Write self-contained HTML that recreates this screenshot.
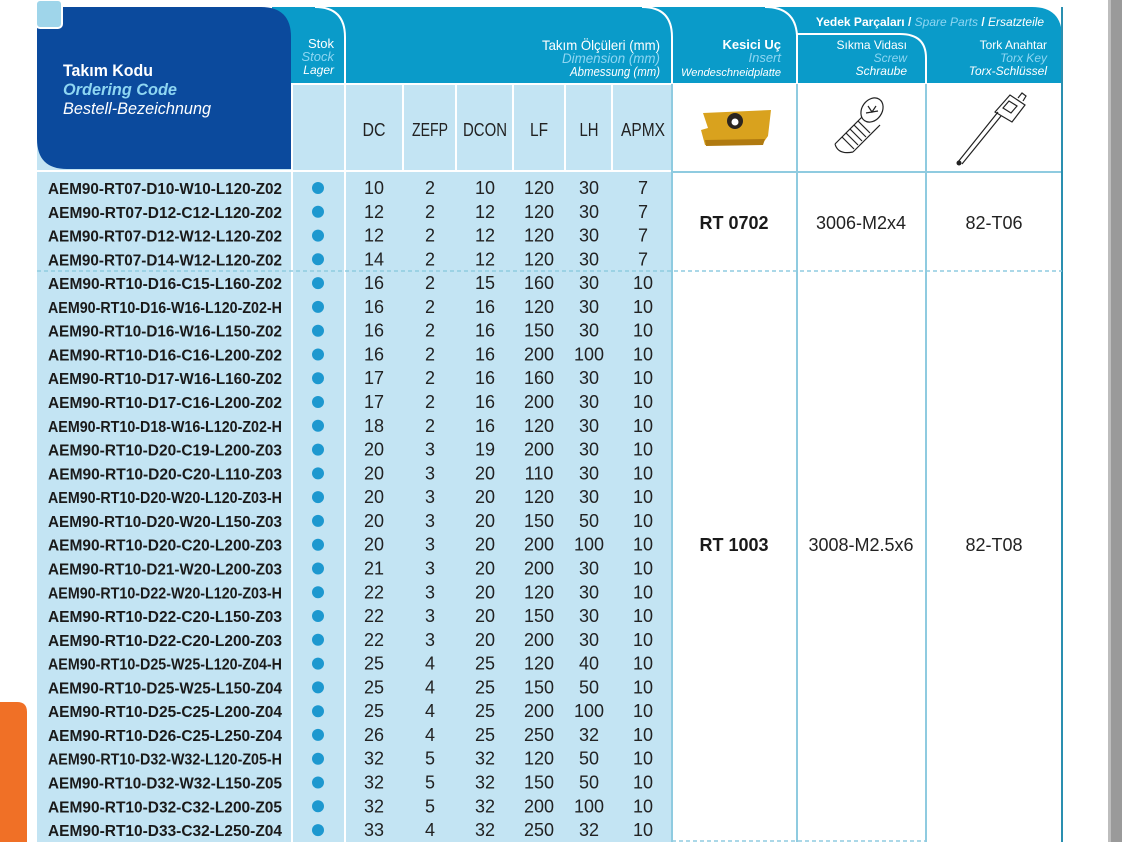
<!DOCTYPE html>
<html><head><meta charset="utf-8"><style>
html,body{margin:0;padding:0;background:#fff;width:1122px;height:842px;overflow:hidden}
svg{display:block}
text{font-family:"Liberation Sans Narrow","Liberation Sans",sans-serif}
.c{font-weight:bold;font-size:16px;fill:#1a1a1a}
.n{font-size:18px;fill:#222;text-anchor:middle}
.h{fill:#fff;text-anchor:end}
.e{fill:#8ed6f2;font-style:italic;text-anchor:end}
.i{fill:#fff;font-style:italic;text-anchor:end}
</style></head><body>
<svg width="1122" height="842" viewBox="0 0 1122 842" xmlns="http://www.w3.org/2000/svg">
<rect x="1108" y="0" width="14" height="842" fill="#9a9a9a"/>
<rect x="1108" y="0" width="3" height="842" fill="#bdbdbd"/>
<path d="M0 702 H17 Q27 702 27 712 V842 H0 Z" fill="#f07026"/>
<path d="M272 7 H1032 Q1062 7 1062 37 V83 H272 Z" fill="#0a9bc9"/>
<path d="M315 7 Q345 7 345 37 V83" stroke="#fff" stroke-width="2" fill="none"/>
<path d="M642 7 Q672 7 672 37 V83" stroke="#fff" stroke-width="2" fill="none"/>
<path d="M765 7 Q795 7 797 35 V83" stroke="#fff" stroke-width="2" fill="none"/>
<path d="M797 34 H900 Q926 34 926 58 V83" stroke="#fff" stroke-width="2" fill="none"/>
<rect x="37" y="84" width="635" height="758" fill="#c3e4f3"/>
<rect x="672" y="84" width="390" height="758" fill="#fff"/>
<g stroke="#fff" stroke-width="2">
<line x1="292" y1="84" x2="292" y2="842"/>
<line x1="345" y1="84" x2="345" y2="842"/>
<line x1="403" y1="84" x2="403" y2="171"/>
<line x1="456" y1="84" x2="456" y2="171"/>
<line x1="513" y1="84" x2="513" y2="171"/>
<line x1="565" y1="84" x2="565" y2="171"/>
<line x1="612" y1="84" x2="612" y2="171"/>
<line x1="37" y1="171" x2="672" y2="171"/>
<line x1="37" y1="84" x2="672" y2="84"/>
</g>
<g stroke="#8fcbe0" stroke-width="2">
<line x1="672" y1="84" x2="672" y2="842"/>
<line x1="797" y1="84" x2="797" y2="842"/>
<line x1="926" y1="84" x2="926" y2="842"/>
<line x1="672" y1="172" x2="1062" y2="172"/>
</g>
<line x1="1062" y1="7" x2="1062" y2="842" stroke="#2a8fb0" stroke-width="2"/>
<line x1="37" y1="271" x2="1062" y2="271" stroke="#8fcbe0" stroke-width="1.5" stroke-dasharray="4,3"/>
<line x1="672" y1="841" x2="926" y2="841" stroke="#8fcbe0" stroke-width="1.5" stroke-dasharray="4,3"/>
<path d="M37 7 H261 Q291 7 291 37 V169 H67 Q37 169 37 139 Z" fill="#0b4a9d"/>
<rect x="36" y="0" width="26" height="28" rx="4" fill="#9fd5ea" stroke="#fff" stroke-width="2"/>
<text x="63" y="76" fill="#fff" font-weight="bold" font-size="17" textLength="90" lengthAdjust="spacingAndGlyphs">Takım Kodu</text>
<text x="63" y="95" fill="#8ed6f2" font-weight="bold" font-style="italic" font-size="17" textLength="114" lengthAdjust="spacingAndGlyphs">Ordering Code</text>
<text x="63" y="114" fill="#fff" font-style="italic" font-size="17" textLength="148" lengthAdjust="spacingAndGlyphs">Bestell-Bezeichnung</text>
<text x="334" y="48" class="h" font-size="13">Stok</text>
<text x="334" y="61" class="e" font-size="13">Stock</text>
<text x="334" y="74" class="i" font-size="12">Lager</text>
<text x="660" y="50" class="h" font-size="14" textLength="118" lengthAdjust="spacingAndGlyphs">Takım Ölçüleri (mm)</text>
<text x="660" y="63" class="e" font-size="14" textLength="98" lengthAdjust="spacingAndGlyphs">Dimension (mm)</text>
<text x="660" y="76" class="i" font-size="13" textLength="90" lengthAdjust="spacingAndGlyphs">Abmessung (mm)</text>
<text x="781" y="49" class="h" font-size="13" font-weight="bold">Kesici Uç</text>
<text x="781" y="62" class="e" font-size="13">Insert</text>
<text x="781" y="76" class="i" font-size="11" textLength="100" lengthAdjust="spacingAndGlyphs">Wendeschneidplatte</text>
<text x="930" y="26" fill="#fff" font-size="12" font-weight="bold" text-anchor="middle">Yedek Parçaları / <tspan fill="#8ed6f2" font-style="italic" font-weight="normal">Spare Parts</tspan> / <tspan font-style="italic" font-weight="normal">Ersatzteile</tspan></text>
<text x="907" y="49" class="h" font-size="12">Sıkma Vidası</text>
<text x="907" y="62" class="e" font-size="12">Screw</text>
<text x="907" y="75" class="i" font-size="12">Schraube</text>
<text x="1047" y="49" class="h" font-size="12">Tork Anahtar</text>
<text x="1047" y="62" class="e" font-size="12">Torx Key</text>
<text x="1047" y="75" class="i" font-size="12">Torx-Schlüssel</text>
<text class="n" x="374" y="136" textLength="23" lengthAdjust="spacingAndGlyphs">DC</text>
<text class="n" x="430" y="136" textLength="36" lengthAdjust="spacingAndGlyphs">ZEFP</text>
<text class="n" x="485" y="136" textLength="44" lengthAdjust="spacingAndGlyphs">DCON</text>
<text class="n" x="539" y="136" textLength="18" lengthAdjust="spacingAndGlyphs">LF</text>
<text class="n" x="589" y="136" textLength="19" lengthAdjust="spacingAndGlyphs">LH</text>
<text class="n" x="643" y="136" textLength="44" lengthAdjust="spacingAndGlyphs">APMX</text>
<g>
<path d="M703 113 L771 110 L768 136 L763 143 L705 145 L701 130 L708 128 Z" fill="#d9a21e"/>
<path d="M705 140 L765 139 L763 145 L706 146 Z" fill="#b07a10"/>
<circle cx="735" cy="121" r="8" fill="#2b2520"/><circle cx="735" cy="122" r="3.5" fill="#fff"/>
</g>
<g fill="none" stroke="#222" stroke-width="1.2">
<ellipse cx="872" cy="110" rx="10" ry="13" transform="rotate(35 872 110)"/>
<path d="M868 106 l4 6 l4 -6 M866 113 l12 -2"/>
<path d="M862 117 L835 144 M880 125 L853 152 M835 144 Q838 155 853 152"/>
<path d="M842 137 l12 12 M846 133 l12 12 M850 129 l12 12 M854 125 l12 12 M858 121 l12 12"/>
<path d="M958 162 L998 112 M962 164 L1001 116"/>
<path d="M995 112 L1010 95 L1025 105 L1012 122 Z M1003 108 l6 -7 l8 5 l-6 7 Z M1018 98 l4 -5 l4 3 l-3 5"/>
</g>
<circle cx="959" cy="163" r="2.5" fill="#222"/>
<text x="734" y="229" font-size="18" font-weight="bold" text-anchor="middle" fill="#1a1a1a">RT 0702</text>
<text x="861" y="229" font-size="18" text-anchor="middle" fill="#222">3006-M2x4</text>
<text x="994" y="229" font-size="18" text-anchor="middle" fill="#222">82-T06</text>
<text x="734" y="551" font-size="18" font-weight="bold" text-anchor="middle" fill="#1a1a1a">RT 1003</text>
<text x="861" y="551" font-size="18" text-anchor="middle" fill="#222">3008-M2.5x6</text>
<text x="994" y="551" font-size="18" text-anchor="middle" fill="#222">82-T08</text>
<g id="rows">
<g transform="translate(0,194)"><text class="c" x="48" textLength="234" lengthAdjust="spacingAndGlyphs">AEM90-RT07-D10-W10-L120-Z02</text><circle cx="318" cy="-6" r="6" fill="#1d98cf"/><text class="n" x="374">10</text><text class="n" x="430">2</text><text class="n" x="485">10</text><text class="n" x="539">120</text><text class="n" x="589">30</text><text class="n" x="643">7</text></g>
<g transform="translate(0,217.8)"><text class="c" x="48" textLength="234" lengthAdjust="spacingAndGlyphs">AEM90-RT07-D12-C12-L120-Z02</text><circle cx="318" cy="-6" r="6" fill="#1d98cf"/><text class="n" x="374">12</text><text class="n" x="430">2</text><text class="n" x="485">12</text><text class="n" x="539">120</text><text class="n" x="589">30</text><text class="n" x="643">7</text></g>
<g transform="translate(0,241.6)"><text class="c" x="48" textLength="234" lengthAdjust="spacingAndGlyphs">AEM90-RT07-D12-W12-L120-Z02</text><circle cx="318" cy="-6" r="6" fill="#1d98cf"/><text class="n" x="374">12</text><text class="n" x="430">2</text><text class="n" x="485">12</text><text class="n" x="539">120</text><text class="n" x="589">30</text><text class="n" x="643">7</text></g>
<g transform="translate(0,265.3)"><text class="c" x="48" textLength="234" lengthAdjust="spacingAndGlyphs">AEM90-RT07-D14-W12-L120-Z02</text><circle cx="318" cy="-6" r="6" fill="#1d98cf"/><text class="n" x="374">14</text><text class="n" x="430">2</text><text class="n" x="485">12</text><text class="n" x="539">120</text><text class="n" x="589">30</text><text class="n" x="643">7</text></g>
<g transform="translate(0,289.1)"><text class="c" x="48" textLength="234" lengthAdjust="spacingAndGlyphs">AEM90-RT10-D16-C15-L160-Z02</text><circle cx="318" cy="-6" r="6" fill="#1d98cf"/><text class="n" x="374">16</text><text class="n" x="430">2</text><text class="n" x="485">15</text><text class="n" x="539">160</text><text class="n" x="589">30</text><text class="n" x="643">10</text></g>
<g transform="translate(0,312.9)"><text class="c" x="48" textLength="234" lengthAdjust="spacingAndGlyphs">AEM90-RT10-D16-W16-L120-Z02-H</text><circle cx="318" cy="-6" r="6" fill="#1d98cf"/><text class="n" x="374">16</text><text class="n" x="430">2</text><text class="n" x="485">16</text><text class="n" x="539">120</text><text class="n" x="589">30</text><text class="n" x="643">10</text></g>
<g transform="translate(0,336.7)"><text class="c" x="48" textLength="234" lengthAdjust="spacingAndGlyphs">AEM90-RT10-D16-W16-L150-Z02</text><circle cx="318" cy="-6" r="6" fill="#1d98cf"/><text class="n" x="374">16</text><text class="n" x="430">2</text><text class="n" x="485">16</text><text class="n" x="539">150</text><text class="n" x="589">30</text><text class="n" x="643">10</text></g>
<g transform="translate(0,360.5)"><text class="c" x="48" textLength="234" lengthAdjust="spacingAndGlyphs">AEM90-RT10-D16-C16-L200-Z02</text><circle cx="318" cy="-6" r="6" fill="#1d98cf"/><text class="n" x="374">16</text><text class="n" x="430">2</text><text class="n" x="485">16</text><text class="n" x="539">200</text><text class="n" x="589">100</text><text class="n" x="643">10</text></g>
<g transform="translate(0,384.2)"><text class="c" x="48" textLength="234" lengthAdjust="spacingAndGlyphs">AEM90-RT10-D17-W16-L160-Z02</text><circle cx="318" cy="-6" r="6" fill="#1d98cf"/><text class="n" x="374">17</text><text class="n" x="430">2</text><text class="n" x="485">16</text><text class="n" x="539">160</text><text class="n" x="589">30</text><text class="n" x="643">10</text></g>
<g transform="translate(0,408)"><text class="c" x="48" textLength="234" lengthAdjust="spacingAndGlyphs">AEM90-RT10-D17-C16-L200-Z02</text><circle cx="318" cy="-6" r="6" fill="#1d98cf"/><text class="n" x="374">17</text><text class="n" x="430">2</text><text class="n" x="485">16</text><text class="n" x="539">200</text><text class="n" x="589">30</text><text class="n" x="643">10</text></g>
<g transform="translate(0,431.8)"><text class="c" x="48" textLength="234" lengthAdjust="spacingAndGlyphs">AEM90-RT10-D18-W16-L120-Z02-H</text><circle cx="318" cy="-6" r="6" fill="#1d98cf"/><text class="n" x="374">18</text><text class="n" x="430">2</text><text class="n" x="485">16</text><text class="n" x="539">120</text><text class="n" x="589">30</text><text class="n" x="643">10</text></g>
<g transform="translate(0,455.6)"><text class="c" x="48" textLength="234" lengthAdjust="spacingAndGlyphs">AEM90-RT10-D20-C19-L200-Z03</text><circle cx="318" cy="-6" r="6" fill="#1d98cf"/><text class="n" x="374">20</text><text class="n" x="430">3</text><text class="n" x="485">19</text><text class="n" x="539">200</text><text class="n" x="589">30</text><text class="n" x="643">10</text></g>
<g transform="translate(0,479.4)"><text class="c" x="48" textLength="234" lengthAdjust="spacingAndGlyphs">AEM90-RT10-D20-C20-L110-Z03</text><circle cx="318" cy="-6" r="6" fill="#1d98cf"/><text class="n" x="374">20</text><text class="n" x="430">3</text><text class="n" x="485">20</text><text class="n" x="539">110</text><text class="n" x="589">30</text><text class="n" x="643">10</text></g>
<g transform="translate(0,503.1)"><text class="c" x="48" textLength="234" lengthAdjust="spacingAndGlyphs">AEM90-RT10-D20-W20-L120-Z03-H</text><circle cx="318" cy="-6" r="6" fill="#1d98cf"/><text class="n" x="374">20</text><text class="n" x="430">3</text><text class="n" x="485">20</text><text class="n" x="539">120</text><text class="n" x="589">30</text><text class="n" x="643">10</text></g>
<g transform="translate(0,526.9)"><text class="c" x="48" textLength="234" lengthAdjust="spacingAndGlyphs">AEM90-RT10-D20-W20-L150-Z03</text><circle cx="318" cy="-6" r="6" fill="#1d98cf"/><text class="n" x="374">20</text><text class="n" x="430">3</text><text class="n" x="485">20</text><text class="n" x="539">150</text><text class="n" x="589">50</text><text class="n" x="643">10</text></g>
<g transform="translate(0,550.7)"><text class="c" x="48" textLength="234" lengthAdjust="spacingAndGlyphs">AEM90-RT10-D20-C20-L200-Z03</text><circle cx="318" cy="-6" r="6" fill="#1d98cf"/><text class="n" x="374">20</text><text class="n" x="430">3</text><text class="n" x="485">20</text><text class="n" x="539">200</text><text class="n" x="589">100</text><text class="n" x="643">10</text></g>
<g transform="translate(0,574.5)"><text class="c" x="48" textLength="234" lengthAdjust="spacingAndGlyphs">AEM90-RT10-D21-W20-L200-Z03</text><circle cx="318" cy="-6" r="6" fill="#1d98cf"/><text class="n" x="374">21</text><text class="n" x="430">3</text><text class="n" x="485">20</text><text class="n" x="539">200</text><text class="n" x="589">30</text><text class="n" x="643">10</text></g>
<g transform="translate(0,598.3)"><text class="c" x="48" textLength="234" lengthAdjust="spacingAndGlyphs">AEM90-RT10-D22-W20-L120-Z03-H</text><circle cx="318" cy="-6" r="6" fill="#1d98cf"/><text class="n" x="374">22</text><text class="n" x="430">3</text><text class="n" x="485">20</text><text class="n" x="539">120</text><text class="n" x="589">30</text><text class="n" x="643">10</text></g>
<g transform="translate(0,622)"><text class="c" x="48" textLength="234" lengthAdjust="spacingAndGlyphs">AEM90-RT10-D22-C20-L150-Z03</text><circle cx="318" cy="-6" r="6" fill="#1d98cf"/><text class="n" x="374">22</text><text class="n" x="430">3</text><text class="n" x="485">20</text><text class="n" x="539">150</text><text class="n" x="589">30</text><text class="n" x="643">10</text></g>
<g transform="translate(0,645.8)"><text class="c" x="48" textLength="234" lengthAdjust="spacingAndGlyphs">AEM90-RT10-D22-C20-L200-Z03</text><circle cx="318" cy="-6" r="6" fill="#1d98cf"/><text class="n" x="374">22</text><text class="n" x="430">3</text><text class="n" x="485">20</text><text class="n" x="539">200</text><text class="n" x="589">30</text><text class="n" x="643">10</text></g>
<g transform="translate(0,669.6)"><text class="c" x="48" textLength="234" lengthAdjust="spacingAndGlyphs">AEM90-RT10-D25-W25-L120-Z04-H</text><circle cx="318" cy="-6" r="6" fill="#1d98cf"/><text class="n" x="374">25</text><text class="n" x="430">4</text><text class="n" x="485">25</text><text class="n" x="539">120</text><text class="n" x="589">40</text><text class="n" x="643">10</text></g>
<g transform="translate(0,693.4)"><text class="c" x="48" textLength="234" lengthAdjust="spacingAndGlyphs">AEM90-RT10-D25-W25-L150-Z04</text><circle cx="318" cy="-6" r="6" fill="#1d98cf"/><text class="n" x="374">25</text><text class="n" x="430">4</text><text class="n" x="485">25</text><text class="n" x="539">150</text><text class="n" x="589">50</text><text class="n" x="643">10</text></g>
<g transform="translate(0,717.2)"><text class="c" x="48" textLength="234" lengthAdjust="spacingAndGlyphs">AEM90-RT10-D25-C25-L200-Z04</text><circle cx="318" cy="-6" r="6" fill="#1d98cf"/><text class="n" x="374">25</text><text class="n" x="430">4</text><text class="n" x="485">25</text><text class="n" x="539">200</text><text class="n" x="589">100</text><text class="n" x="643">10</text></g>
<g transform="translate(0,740.9)"><text class="c" x="48" textLength="234" lengthAdjust="spacingAndGlyphs">AEM90-RT10-D26-C25-L250-Z04</text><circle cx="318" cy="-6" r="6" fill="#1d98cf"/><text class="n" x="374">26</text><text class="n" x="430">4</text><text class="n" x="485">25</text><text class="n" x="539">250</text><text class="n" x="589">32</text><text class="n" x="643">10</text></g>
<g transform="translate(0,764.7)"><text class="c" x="48" textLength="234" lengthAdjust="spacingAndGlyphs">AEM90-RT10-D32-W32-L120-Z05-H</text><circle cx="318" cy="-6" r="6" fill="#1d98cf"/><text class="n" x="374">32</text><text class="n" x="430">5</text><text class="n" x="485">32</text><text class="n" x="539">120</text><text class="n" x="589">50</text><text class="n" x="643">10</text></g>
<g transform="translate(0,788.5)"><text class="c" x="48" textLength="234" lengthAdjust="spacingAndGlyphs">AEM90-RT10-D32-W32-L150-Z05</text><circle cx="318" cy="-6" r="6" fill="#1d98cf"/><text class="n" x="374">32</text><text class="n" x="430">5</text><text class="n" x="485">32</text><text class="n" x="539">150</text><text class="n" x="589">50</text><text class="n" x="643">10</text></g>
<g transform="translate(0,812.3)"><text class="c" x="48" textLength="234" lengthAdjust="spacingAndGlyphs">AEM90-RT10-D32-C32-L200-Z05</text><circle cx="318" cy="-6" r="6" fill="#1d98cf"/><text class="n" x="374">32</text><text class="n" x="430">5</text><text class="n" x="485">32</text><text class="n" x="539">200</text><text class="n" x="589">100</text><text class="n" x="643">10</text></g>
<g transform="translate(0,836.1)"><text class="c" x="48" textLength="234" lengthAdjust="spacingAndGlyphs">AEM90-RT10-D33-C32-L250-Z04</text><circle cx="318" cy="-6" r="6" fill="#1d98cf"/><text class="n" x="374">33</text><text class="n" x="430">4</text><text class="n" x="485">32</text><text class="n" x="539">250</text><text class="n" x="589">32</text><text class="n" x="643">10</text></g>
</g>
</svg>
</body></html>
